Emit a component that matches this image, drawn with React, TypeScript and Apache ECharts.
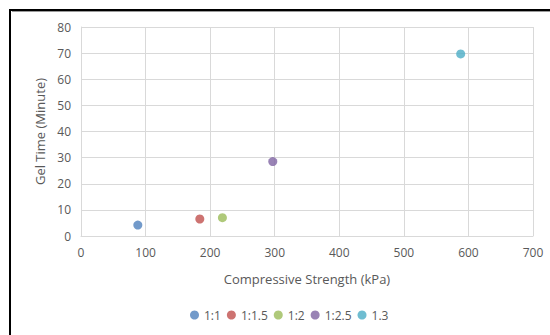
import React, { useEffect, useRef } from "react";
import * as echarts from "echarts";

// Mix ratios and their measured results
const ratios = ["1:1", "1:1.5", "1:2", "1:2.5", "1.3"];
const strength = [88, 184, 219, 297, 588]; // kPa
const gelTime = [4.2, 6.5, 7.0, 28.5, 69.7]; // minutes
const colors = ["#4F81BD", "#C0504D", "#9BBB59", "#8064A2", "#4BACC6"];

const xTicks = { min: 0, max: 700, interval: 100 };
const yTicks = { min: 0, max: 80, interval: 10 };

const FONT = "'Open Sans', 'Liberation Sans', sans-serif";
const LABEL = "#595959";
const GRID = "#D9D9D9";

export default function App() {
  const ref = useRef<HTMLDivElement>(null);

  useEffect(() => {
    if (!ref.current) return;
    const chart = echarts.init(ref.current, undefined, { renderer: "svg" });
    chart.setOption({
      animation: false,
      backgroundColor: "#ffffff",
      textStyle: { fontFamily: FONT },
      grid: { left: 81, top: 27, right: 17, bottom: 99 },
      legend: {
        bottom: 9,
        left: 185,
        icon: "circle",
        itemWidth: 9,
        itemHeight: 9,
        itemGap: 6,
        textStyle: { color: LABEL, fontSize: 12, fontFamily: FONT },
        data: ratios,
      },
      xAxis: {
        type: "value",
        ...xTicks,
        name: "Compressive Strength (kPa)",
        nameLocation: "middle",
        nameGap: 36,
        nameTextStyle: { color: LABEL, fontSize: 13, fontFamily: FONT },
        axisLine: { show: true, lineStyle: { color: GRID } },
        axisTick: { show: false },
        axisLabel: { color: LABEL, fontSize: 12, margin: 10 },
        splitLine: { show: true, lineStyle: { color: GRID } },
      },
      yAxis: {
        type: "value",
        ...yTicks,
        name: "Gel Time (Minute)",
        nameLocation: "middle",
        nameGap: 34,
        nameTextStyle: { color: LABEL, fontSize: 13, fontFamily: FONT },
        axisLine: { show: true, lineStyle: { color: GRID } },
        axisTick: { show: false },
        axisLabel: { color: LABEL, fontSize: 12, margin: 10 },
        splitLine: { show: true, lineStyle: { color: GRID } },
      },
      graphic: [
        { type: "line", shape: { x1: 10, y1: 10, x2: 550, y2: 10 }, style: { stroke: "#000", lineWidth: 2 } },
        { type: "line", shape: { x1: 12, y1: 11.5, x2: 550, y2: 11.5 }, style: { stroke: "#9a9a9a", lineWidth: 1 } },
        { type: "line", shape: { x1: 10, y1: 9, x2: 10, y2: 335 }, style: { stroke: "#000", lineWidth: 2 } },
      ],
      series: ratios.map((name, i) => ({
        name,
        type: "scatter",
        symbol: "circle",
        symbolSize: 9,
        itemStyle: { color: colors[i] },
        data: [[strength[i], gelTime[i]]],
      })),
    });
    return () => chart.dispose();
  }, []);

  return (
    <div
      ref={ref}
      style={{ position: "fixed", left: 0, top: 0, width: 550, height: 335 }}
    />
  );
}
